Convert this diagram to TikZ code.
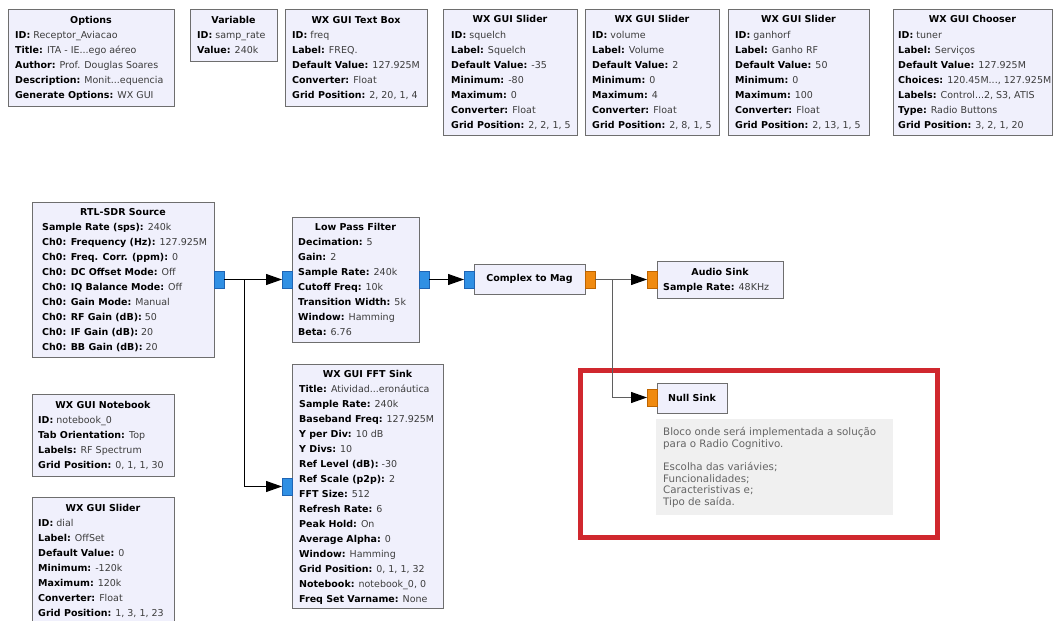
\documentclass[tikz,border=0pt]{standalone}
\usepackage{fontspec}
\setmainfont{DejaVu Sans}
\usetikzlibrary{arrows.meta}
\definecolor{blkfill}{RGB}{240,240,252}
\definecolor{blkdraw}{RGB}{110,110,110}
\definecolor{valcol}{RGB}{60,60,60}
\definecolor{portblue}{RGB}{48,144,228}
\definecolor{portblued}{RGB}{30,100,180}
\definecolor{portorange}{RGB}{240,138,16}
\definecolor{portoranged}{RGB}{190,100,0}
\definecolor{cmtfill}{RGB}{240,240,240}
\definecolor{cmttext}{RGB}{100,100,100}
\definecolor{redbox}{RGB}{208,40,46}
\definecolor{wiregray}{RGB}{95,95,95}
\newcommand\kv[2]{\textbf{#1:} {\color{valcol}#2}}
\tikzset{
 blkbox/.style={draw=blkdraw, fill=blkfill, line width=0.9pt, inner sep=0pt, outer sep=0pt, rectangle},
 blktitle/.style={font=\fontsize{9.5}{11}\selectfont\bfseries, inner sep=0pt, text=black},
 blkline/.style={font=\fontsize{9.5}{11}\selectfont, inner sep=0pt, text=black},
 portb/.style={draw=portblued, fill=portblue, minimum width=10pt, minimum height=17pt, inner sep=0pt, outer sep=0pt, line width=0.6pt},
 porto/.style={draw=portoranged, fill=portorange, minimum width=10pt, minimum height=17pt, inner sep=0pt, outer sep=0pt, line width=0.6pt},
 wireb/.style={draw=black, line width=1pt, -{Triangle[length=16pt,width=11pt]}},
 wireo/.style={draw=wiregray, line width=1pt, -{Triangle[length=16pt,width=11pt,color=black]}},
 cmtline/.style={font=\fontsize{10.3}{11}\selectfont, inner sep=0pt, text=cmttext},
}
% name, x1, y1, x2, y2, pad, nlines, title, lines
\newcommand\grblock[9]{%
 \node[blkbox, minimum width={(#4-#2)*1pt}, minimum height={(#5-#3)*1pt}] (#1) at ({(#2+#4)/2},{(#3+#5)/2}) {};
 \pgfmathsetmacro\grtc{(#3+#5)/2-#7*7.5}
 \node[blktitle, anchor=base] (#1-title) at ({(#2+#4)/2},{\grtc+3.5}) {#8};
 \foreach \l [count=\i] in {#9} {\node[blkline, anchor=base west] (#1-\i) at ({#2+#6},{\grtc+3.5+15*\i}) {\l};}
}
\begin{document}
\begin{tikzpicture}[x=1pt,y=-1pt]
\useasboundingbox (0,0) rectangle (1053,621);
\clip (0,0) rectangle (1053,621);
\fill[white] (0,0) rectangle (1053,621);

% top row
\grblock{options}{8}{9}{174}{106}{7}{5}{Options}{\kv{ID}{Receptor\_Aviacao},\kv{Title}{ITA - IE...ego aéreo},\kv{Author}{Prof. Douglas Soares},\kv{Description}{Monit...equencia},\kv{Generate Options}{WX GUI}}
\grblock{variable}{190}{9}{277}{61}{7}{2}{Variable}{\kv{ID}{samp\_rate},\kv{Value}{240k}}
\grblock{textbox}{285}{9}{427}{106}{7}{5}{WX GUI Text Box}{\kv{ID}{freq},\kv{Label}{FREQ.},\kv{Default Value}{127.925M},\kv{Converter}{Float},\kv{Grid Position}{2, 20, 1, 4}}
\grblock{squelch}{443}{9}{577}{135}{8}{7}{WX GUI Slider}{\kv{ID}{squelch},\kv{Label}{Squelch},\kv{Default Value}{-35},\kv{Minimum}{-80},\kv{Maximum}{0},\kv{Converter}{Float},\kv{Grid Position}{2, 2, 1, 5}}
\grblock{volume}{585}{9}{719}{135}{7}{7}{WX GUI Slider}{\kv{ID}{volume},\kv{Label}{Volume},\kv{Default Value}{2},\kv{Minimum}{0},\kv{Maximum}{4},\kv{Converter}{Float},\kv{Grid Position}{2, 8, 1, 5}}
\grblock{ganhorf}{728}{9}{869}{135}{7}{7}{WX GUI Slider}{\kv{ID}{ganhorf},\kv{Label}{Ganho RF},\kv{Default Value}{50},\kv{Minimum}{0},\kv{Maximum}{100},\kv{Converter}{Float},\kv{Grid Position}{2, 13, 1, 5}}
\grblock{chooser}{893}{9}{1052}{135}{5}{7}{WX GUI Chooser}{\kv{ID}{tuner},\kv{Label}{Serviços},\kv{Default Value}{127.925M},\kv{Choices}{120.45M..., 127.925M},\kv{Labels}{Control...2, S3, ATIS},\kv{Type}{Radio Buttons},\kv{Grid Position}{3, 2, 1, 20}}

% flow blocks
\grblock{rtl}{32}{202}{214}{357}{10}{9}{RTL-SDR Source}{\kv{Sample Rate (sps)}{240k},\kv{Ch0: Frequency (Hz)}{127.925M},\kv{Ch0: Freq. Corr. (ppm)}{0},\kv{Ch0: DC Offset Mode}{Off},\kv{Ch0: IQ Balance Mode}{Off},\kv{Ch0: Gain Mode}{Manual},\kv{Ch0: RF Gain (dB)}{50},\kv{Ch0: IF Gain (dB)}{20},\kv{Ch0: BB Gain (dB)}{20}}
\grblock{lpf}{292}{217}{419}{342}{6}{7}{Low Pass Filter}{\kv{Decimation}{5},\kv{Gain}{2},\kv{Sample Rate}{240k},\kv{Cutoff Freq}{10k},\kv{Transition Width}{5k},\kv{Window}{Hamming},\kv{Beta}{6.76}}
\node[blkbox, minimum width=111pt, minimum height=30pt, font=\fontsize{9.5}{11}\selectfont\bfseries] (cmag) at (529.5,279) {Complex to Mag};
\grblock{audio}{657}{261}{783}{298}{6}{1}{Audio Sink}{\kv{Sample Rate}{48KHz}}
\grblock{notebook}{32}{394}{174}{476}{6}{4}{WX GUI Notebook}{\kv{ID}{notebook\_0},\kv{Tab Orientation}{Top},\kv{Labels}{RF Spectrum},\kv{Grid Position}{0, 1, 1, 30}}
\grblock{dial}{32}{497}{174}{623}{6}{7}{WX GUI Slider}{\kv{ID}{dial},\kv{Label}{OffSet},\kv{Default Value}{0},\kv{Minimum}{-120k},\kv{Maximum}{120k},\kv{Converter}{Float},\kv{Grid Position}{1, 3, 1, 23}}
\grblock{fft}{292}{364}{443}{608}{7}{15}{WX GUI FFT Sink}{\kv{Title}{Atividad...eronáutica},\kv{Sample Rate}{240k},\kv{Baseband Freq}{127.925M},\kv{Y per Div}{10 dB},\kv{Y Divs}{10},\kv{Ref Level (dB)}{-30},\kv{Ref Scale (p2p)}{2},\kv{FFT Size}{512},\kv{Refresh Rate}{6},\kv{Peak Hold}{On},\kv{Average Alpha}{0},\kv{Window}{Hamming},\kv{Grid Position}{0, 1, 1, 32},\kv{Notebook}{notebook\_0, 0},\kv{Freq Set Varname}{None}}

% highlight and null sink
\node[draw=redbox, line width=5pt, minimum width=357pt, minimum height=167pt, inner sep=0pt] (highlight) at (758.5,453.5) {};
\node[blkbox, minimum width=70pt, minimum height=30pt, font=\fontsize{9.5}{11}\selectfont\bfseries] (null) at (692,398) {Null Sink};
\node[fill=cmtfill, minimum width=237pt, minimum height=96pt, inner sep=0pt] (comment) at (774.5,467) {};
\foreach \t/\yy [count=\i] in {{Bloco onde será implementada a solução}/435.5,{para o Radio Cognitivo.}/447,{Escolha das variávies;}/470.5,{Funcionalidades;}/482,{Caracteristivas e;}/493.5,{Tipo de saída.}/505}
  {\node[cmtline, anchor=base west] (comment-\i) at (663,\yy) {\t};}

% ports
\node[portb] (rtl-out) at (219,279.5) {};
\node[portb] (lpf-in) at (287,279.5) {};
\node[portb] (lpf-out) at (424,279.5) {};
\node[portb] (cmag-in) at (469,279.5) {};
\node[porto] (cmag-out) at (590,279.5) {};
\node[porto] (audio-in) at (652,279.5) {};
\node[porto] (null-in) at (652,397.5) {};
\node[portb] (fft-in) at (287,486.5) {};

% wires
\coordinate (j1) at (244,279.5);
\coordinate (j2) at (612,279.5);
\draw[wireb] (rtl-out.east) -- (lpf-in.west);
\draw[wireb] (j1) |- (fft-in.west);
\draw[wireb] (lpf-out.east) -- (cmag-in.west);
\draw[wireo] (cmag-out.east) -- (audio-in.west);
\draw[wireo] (j2) |- (null-in.west);
\end{tikzpicture}
\end{document}
